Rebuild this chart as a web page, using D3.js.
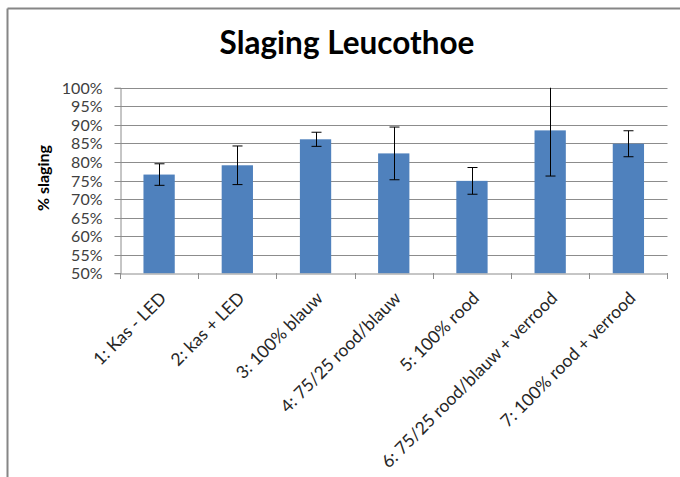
<!DOCTYPE html>
<html>
<head>
<meta charset="utf-8">
<script src="https://cdn.jsdelivr.net/npm/d3@7"></script>
<style>
  html, body { margin: 0; padding: 0; background: #fff; }
  svg { display: block; }
</style>
</head>
<body>
<svg id="chart" width="680" height="477"></svg>
<script>
const categories = [
  "1: Kas - LED",
  "2: kas + LED",
  "3: 100% blauw",
  "4: 75/25 rood/blauw",
  "5: 100% rood",
  "6: 75/25 rood/blauw + verrood",
  "7: 100% rood + verrood"
];
const values = [76.6, 79.1, 86.1, 82.3, 74.9, 88.5, 84.9];
const errors = [2.9, 5.2, 1.9, 7.1, 3.6, 12.3, 3.5];
const yTicks = [50, 55, 60, 65, 70, 75, 80, 85, 90, 95, 100];
const title = "Slaging Leucothoe";
const yTitle = "% slaging";

const W = 680, H = 477;
const plot = { left: 120, right: 667.5, top: 87.7, bottom: 273.3 };
const font = "Lato, 'Open Sans', sans-serif";

const svg = d3.select("#chart");

// outer border (top and left visible)
svg.append("line").attr("x1", 7.5).attr("x2", W).attr("y1", 8.5).attr("y2", 8.5)
  .attr("stroke", "#868686").attr("stroke-width", 2);
svg.append("line").attr("x1", 7.5).attr("x2", 7.5).attr("y1", 8.5).attr("y2", H)
  .attr("stroke", "#868686").attr("stroke-width", 2);

const x = d3.scaleBand().domain(categories).range([plot.left, plot.right]).paddingInner(0).paddingOuter(0);
const y = d3.scaleLinear().domain([50, 100]).range([plot.bottom, plot.top]);

// gridlines
svg.append("g").selectAll("line").data(yTicks.filter(t => t > 50)).join("line")
  .attr("x1", plot.left).attr("x2", plot.right)
  .attr("y1", d => Math.round(y(d)) + 0.5).attr("y2", d => Math.round(y(d)) + 0.5)
  .attr("stroke", "#8c8c8c").attr("stroke-width", 1);

// y axis
const yAxis = d3.axisLeft(y).tickValues(yTicks).tickSize(6).tickPadding(12)
  .tickFormat(d => d + "%");
const gy = svg.append("g").attr("transform", `translate(${plot.left + 0.5},0)`).call(yAxis);
gy.select(".domain").attr("stroke", "#8c8c8c");
gy.selectAll(".tick line").attr("stroke", "#8c8c8c");
gy.selectAll(".tick text").attr("font-family", font).attr("font-size", 16)
  .attr("fill", "#404040");
gy.selectAll(".tick").attr("transform", d => `translate(0,${Math.round(y(d)) + 0.5})`);

// bars
const barW = x.bandwidth() * 0.4;
svg.append("g").selectAll("rect").data(values).join("rect")
  .attr("x", (d, i) => x(categories[i]) + x.bandwidth() / 2 - barW / 2)
  .attr("width", barW)
  .attr("y", d => y(d))
  .attr("height", d => y(50) - y(d))
  .attr("fill", "#4f81bd");

// x axis
const xAxis = d3.axisBottom(x).tickSize(0).tickFormat("");
const gx = svg.append("g").attr("transform", `translate(0,${Math.round(plot.bottom) + 0.5})`).call(xAxis);
gx.select(".domain").attr("stroke", "#8c8c8c");
gx.selectAll(".tick").remove();
const bounds = categories.map(c => x(c)).concat([x(categories[categories.length - 1]) + x.bandwidth()]);
svg.append("g").selectAll("line").data(bounds).join("line")
  .attr("x1", d => Math.round(d) + 0.5).attr("x2", d => Math.round(d) + 0.5)
  .attr("y1", Math.round(plot.bottom)).attr("y2", Math.round(plot.bottom) + 6)
  .attr("stroke", "#8c8c8c");

// error bars (clipped to plot area)
svg.append("clipPath").attr("id", "plotclip").append("rect")
  .attr("x", plot.left).attr("y", plot.top).attr("width", plot.right - plot.left)
  .attr("height", plot.bottom - plot.top);
const eg = svg.append("g").attr("clip-path", "url(#plotclip)");
values.forEach((v, i) => {
  const cx = Math.round(x(categories[i]) + x.bandwidth() / 2) + 0.5;
  const hi = y(v + errors[i]), lo = y(v - errors[i]);
  eg.append("line").attr("x1", cx).attr("x2", cx).attr("y1", hi).attr("y2", lo)
    .attr("stroke", "#000").attr("stroke-width", 1);
  [hi, lo].forEach(yy => {
    eg.append("line").attr("x1", cx - 5).attr("x2", cx + 5).attr("y1", yy).attr("y2", yy)
      .attr("stroke", "#000").attr("stroke-width", 1);
  });
});

// category labels
svg.append("g").selectAll("text").data(categories).join("text")
  .attr("transform", d => `translate(${x(d) + x.bandwidth() / 2 + 4},295) rotate(-45)`)
  .attr("text-anchor", "end")
  .attr("dy", "0.35em")
  .attr("font-family", font).attr("font-size", 17.5).attr("fill", "#262626")
  .text(d => d);

// title
svg.append("text").attr("x", 347).attr("y", 54).attr("text-anchor", "middle")
  .attr("font-family", font).attr("font-weight", "bold").attr("font-size", 31.5)
  .attr("fill", "#000").text(title);

// y title
svg.append("text").attr("transform", "translate(43,178) rotate(-90)")
  .attr("text-anchor", "middle").attr("dy", "0.35em")
  .attr("font-family", font).attr("font-weight", "bold").attr("font-size", 16)
  .attr("fill", "#000").text(yTitle);
</script>
</body>
</html>
